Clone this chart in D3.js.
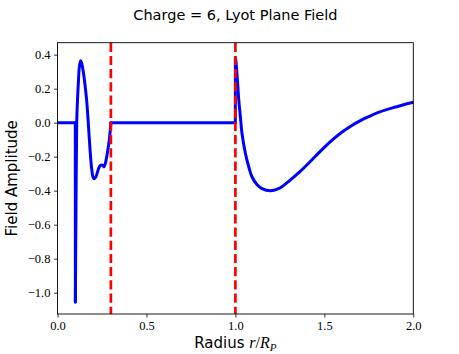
<!DOCTYPE html>
<html>
<head>
<meta charset="utf-8">
<script src="https://cdn.jsdelivr.net/npm/d3@7"></script>
<style>
  body { margin: 0; background: #fff; }
  svg { display: block; }
</style>
</head>
<body>
<svg id="chart" width="459" height="354"></svg>
<script>
// ---- data ----
const radius = [0, 0.1, 0.1005, 0.104, 0.108, 0.111, 0.117, 0.123, 0.13, 0.137, 0.145, 0.155, 0.164, 0.173, 0.183, 0.192, 0.2, 0.207, 0.215, 0.225, 0.235, 0.245, 0.253, 0.262, 0.27, 0.28, 0.29, 0.297, 0.3,
  0.9995, 1.0, 1.003, 1.01, 1.019, 1.028, 1.037, 1.056, 1.075, 1.093, 1.121, 1.15, 1.196, 1.243, 1.27, 1.3, 1.35, 1.4, 1.45, 1.5, 1.55, 1.6, 1.65, 1.7, 1.75, 1.8, 1.85, 1.9, 1.95, 2.0];
const amplitude = [0, 0, -1.055, -0.5, 0.0, 0.1, 0.23, 0.33, 0.365, 0.345, 0.3, 0.22, 0.13, 0.0, -0.16, -0.27, -0.32, -0.33, -0.32, -0.29, -0.26, -0.25, -0.25, -0.26, -0.235, -0.18, -0.11, -0.04, 0,
  0, 0.38, 0.36, 0.27, 0.133, 0.035, -0.062, -0.18, -0.259, -0.318, -0.363, -0.388, -0.401, -0.388, -0.37, -0.345, -0.3, -0.25, -0.197, -0.145, -0.097, -0.055, -0.019, 0.011, 0.036, 0.059, 0.077, 0.092, 0.107, 0.12];
const boundaries = [0.3, 1.0];
const xTicks = [0, 0.5, 1.0, 1.5, 2.0];
const yTicks = [0.4, 0.2, 0.0, -0.2, -0.4, -0.6, -0.8, -1.0];
const titleText = "Charge = 6, Lyot Plane Field";
const yLabel = "Field Amplitude";

// ---- layout ----
const svg = d3.select("#chart");
const L = 57.5, R = 413.3, T = 42.7, B = 314;
const x = d3.scaleLinear().domain([0, 2]).range([L, R]);
const y = d3.scaleLinear().domain([-1.1253, 0.4706]).range([B, T]);

const serif = "'Liberation Serif', 'DejaVu Serif', serif";
const sans = "'DejaVu Sans', 'Liberation Sans', sans-serif";

svg.append("defs").append("clipPath").attr("id", "clip")
  .append("rect").attr("x", L).attr("y", T).attr("width", R - L).attr("height", B - T);

const data = radius.map((r, i) => [r, amplitude[i]]);

// split into straight pieces (flat zero runs and jumps) and smooth pieces
const pieces = [];
let cur = null;
for (let i = 0; i < data.length - 1; i++) {
  const a = data[i], b = data[i + 1];
  const straight = (a[1] === 0 && b[1] === 0) || (b[0] - a[0] < 0.001);
  if (straight) {
    if (cur) { pieces.push(cur); cur = null; }
    pieces.push({ smooth: false, pts: [a, b] });
  } else {
    if (!cur) cur = { smooth: true, pts: [a] };
    cur.pts.push(b);
  }
}
if (cur) pieces.push(cur);

const lineStraight = d3.line().x(d => x(d[0])).y(d => y(d[1]));
const lineSmooth = d3.line().x(d => x(d[0])).y(d => y(d[1])).curve(d3.curveCatmullRom.alpha(0.5));

svg.append("g").attr("clip-path", "url(#clip)")
  .selectAll("path").data(pieces).enter().append("path")
  .attr("fill", "none").attr("stroke", "#0000ff").attr("stroke-width", 3)
  .attr("stroke-linejoin", "round").attr("stroke-linecap", "round")
  .attr("d", p => (p.smooth ? lineSmooth : lineStraight)(p.pts));

svg.selectAll("line.vb").data(boundaries).enter().append("line")
  .attr("class", "vb")
  .attr("x1", d => x(d)).attr("x2", d => x(d))
  .attr("y1", T).attr("y2", B)
  .attr("stroke", "#ff0000").attr("stroke-width", 2.7)
  .attr("stroke-dasharray", "9.2,4");

// axes
const fmt = d => d3.format(".1f")(d).replace("-", "\u2212");
const xAxis = svg.append("g").attr("transform", `translate(0,${B})`)
  .call(d3.axisBottom(x).tickValues(xTicks).tickFormat(fmt).tickSize(3.5).tickPadding(3.5));
const yAxis = svg.append("g").attr("transform", `translate(${L},0)`)
  .call(d3.axisLeft(y).tickValues(yTicks).tickFormat(fmt).tickSize(3.5).tickPadding(3.5));
[xAxis, yAxis].forEach(g => {
  g.attr("font-family", null).attr("font-size", null);
  g.select(".domain").remove();
  g.selectAll("line").attr("stroke", "#000").attr("stroke-width", 0.8);
  g.selectAll("text").style("font-family", serif).style("font-size", "12.5px").attr("fill", "#000");
});

// frame
svg.append("rect").attr("x", L).attr("y", T).attr("width", R - L).attr("height", B - T)
  .attr("fill", "none").attr("stroke", "#000").attr("stroke-width", 0.9);

// title
svg.append("text").attr("x", (L + R) / 2).attr("y", 20)
  .attr("text-anchor", "middle").attr("font-family", sans).attr("font-size", 14.5)
  .text(titleText);

// x label
const xl = svg.append("text").attr("x", (L + R) / 2).attr("y", 347.5)
  .attr("text-anchor", "middle").attr("font-family", sans).attr("font-size", 15);
xl.append("tspan").text("Radius ");
xl.append("tspan").attr("font-family", serif).attr("font-style", "italic").attr("font-size", 16).text("r");
xl.append("tspan").attr("font-family", serif).attr("font-size", 16).text("/");
xl.append("tspan").attr("font-family", serif).attr("font-style", "italic").attr("font-size", 16).text("R");
xl.append("tspan").attr("font-family", serif).attr("font-style", "italic").attr("font-size", 11).attr("dy", 3).text("P");

// y label
svg.append("text").attr("transform", `translate(17,${(T + B) / 2}) rotate(-90)`)
  .attr("text-anchor", "middle").attr("font-family", sans).attr("font-size", 15)
  .text(yLabel);
</script>
</body>
</html>
